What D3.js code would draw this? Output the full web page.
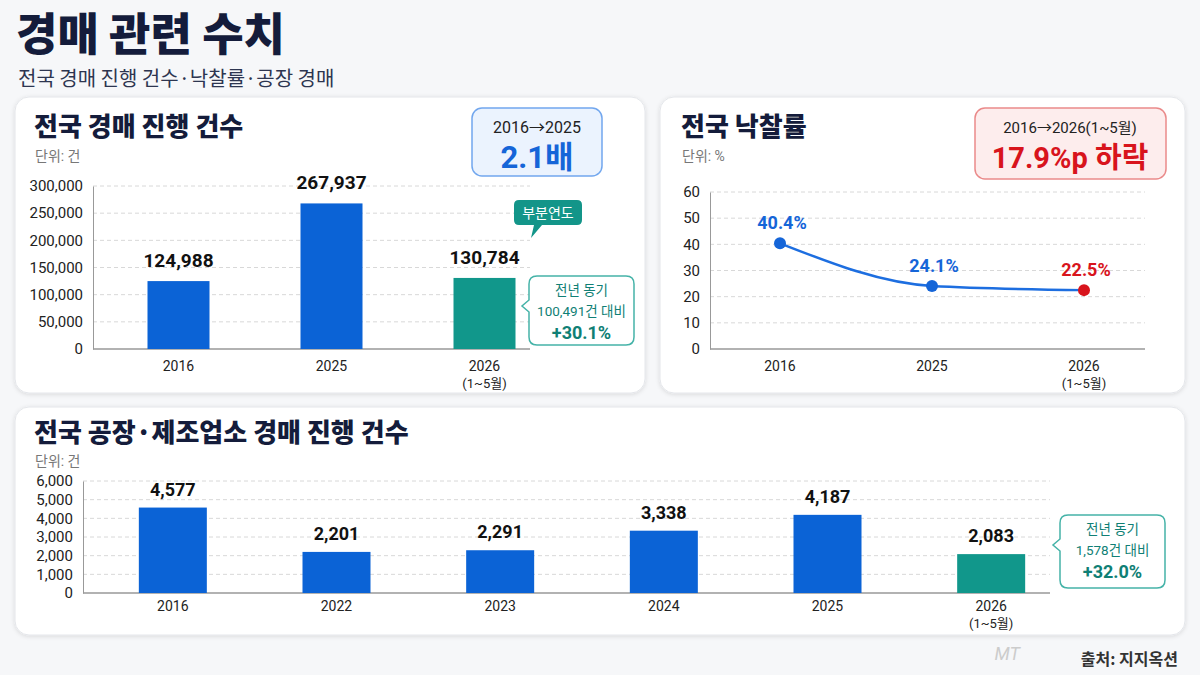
<!DOCTYPE html>
<html>
<head>
<meta charset="utf-8">
<script src="https://cdn.jsdelivr.net/npm/d3@7"></script>
<style>
  body { margin: 0; background: #f6f7f9; }
  svg text { font-family: Roboto, "Noto Sans CJK KR", sans-serif; }
</style>
</head>
<body>
<div id="chart"></div>
<script>
// data
var auctionYears = ["2016", "2025", "2026"];
var auctionCounts = [124988, 267937, 130784];
var auctionTicks = [0, 50000, 100000, 150000, 200000, 250000, 300000];

var rateYears = ["2016", "2025", "2026"];
var rateValues = [40.4, 24.1, 22.5];
var rateTicks = [0, 10, 20, 30, 40, 50, 60];

var factoryYears = ["2016", "2022", "2023", "2024", "2025", "2026"];
var factoryCounts = [4577, 2201, 2291, 3338, 4187, 2083];
var factoryTicks = [0, 1000, 2000, 3000, 4000, 5000, 6000];

var BLUE = "#0b63d6", TEAL = "#11978b", NAVY = "#141c3b", RED = "#d8141c";
var fmt = d3.format(",");

var svg = d3.select("#chart").append("svg")
  .attr("width", 1200)
  .attr("height", 675);

var defs = svg.append("defs");
var shadow = defs.append("filter").attr("id", "shadow").attr("x", "-5%").attr("y", "-5%").attr("width", "110%").attr("height", "115%");
shadow.append("feDropShadow").attr("dx", 0).attr("dy", 1).attr("stdDeviation", 2).attr("flood-color", "#000").attr("flood-opacity", 0.12);

svg.append("rect").attr("width", 1200).attr("height", 675).attr("fill", "#f6f7f9");

// header
svg.append("text").attr("x", 16).attr("y", 51)
  .attr("font-size", 45).attr("font-weight", 900).attr("fill", NAVY)
  .style("font-family", "'Noto Sans CJK KR'")
  .text("경매 관련 수치");
svg.append("text").attr("x", 18).attr("y", 86)
  .attr("font-size", 20).attr("fill", "#2d3550")
  .style("font-family", "'Noto Sans CJK KR'")
  .text("전국 경매 진행 건수·낙찰률·공장 경매");

function panel(x, y, w, h) {
  svg.append("rect").attr("x", x).attr("y", y).attr("width", w).attr("height", h)
    .attr("rx", 14).attr("fill", "#fff").attr("stroke", "#e4e6ea").attr("filter", "url(#shadow)");
}
function panelTitle(x, y, title) {
  svg.append("text").attr("x", x).attr("y", y)
    .attr("font-size", 26).attr("font-weight", 900).attr("fill", NAVY)
    .style("font-family", "'Noto Sans CJK KR'").text(title);
}
function unitLabel(x, y, t) {
  svg.append("text").attr("x", x).attr("y", y)
    .attr("font-size", 14).attr("fill", "#777").text(t);
}
function yGrid(g, y, ticks, x0, x1, f) {
  g.selectAll(".grid").data(ticks.filter(function(d) { return d > 0; })).enter().append("line")
    .attr("x1", x0).attr("x2", x1)
    .attr("y1", function(d) { return y(d); }).attr("y2", function(d) { return y(d); })
    .attr("stroke", "#d8d8d8").attr("stroke-dasharray", "4,3");
  var ax = g.append("g").attr("transform", "translate(" + x0 + ",0)")
    .call(d3.axisLeft(y).tickValues(ticks).tickSize(0).tickPadding(10).tickFormat(f));
  ax.select(".domain").attr("stroke", "#999");
  ax.selectAll("text").attr("font-size", 15).attr("fill", "#222");
  g.append("line").attr("x1", x0).attr("x2", x1).attr("y1", y(0)).attr("y2", y(0))
    .attr("stroke", "#999").attr("stroke-width", 1.5);
}
function xLabels(g, x, years, y0) {
  years.forEach(function(d, i) {
    g.append("text").attr("text-anchor", "middle").attr("font-size", 14).attr("fill", "#222")
      .attr("x", x(d)).attr("y", y0).text(d);
    if (d === "2026") {
      g.append("text").attr("text-anchor", "middle").attr("font-size", 13).attr("fill", "#222")
        .attr("x", x(d)).attr("y", y0 + 17).text("(1~5월)");
    }
  });
}
function callout(x, y, w, h, lines) {
  var g = svg.append("g");
  var p = "M" + (x + 8) + "," + y + " H" + (x + w - 8) + " Q" + (x + w) + "," + y + " " + (x + w) + "," + (y + 8)
    + " V" + (y + h - 8) + " Q" + (x + w) + "," + (y + h) + " " + (x + w - 8) + "," + (y + h)
    + " H" + (x + 8) + " Q" + x + "," + (y + h) + " " + x + "," + (y + h - 8)
    + " V" + (y + 36) + " L" + (x - 7) + "," + (y + 30) + " L" + x + "," + (y + 24)
    + " V" + (y + 8) + " Q" + x + "," + y + " " + (x + 8) + "," + y + " Z";
  g.append("path").attr("d", p).attr("fill", "#fff").attr("stroke", "#45b3a8").attr("stroke-width", 1.5);
  g.append("text").attr("x", x + w / 2).attr("y", y + 19).attr("text-anchor", "middle")
    .attr("font-size", 13.5).attr("fill", "#107f75").text(lines[0]);
  g.append("text").attr("x", x + w / 2).attr("y", y + 40).attr("text-anchor", "middle")
    .attr("font-size", 13.5).attr("fill", "#107f75").text(lines[1]);
  g.append("text").attr("x", x + w / 2).attr("y", y + 63).attr("text-anchor", "middle")
    .attr("font-size", 18).attr("font-weight", 700).attr("fill", "#107f75").text(lines[2]);
}

// panel 1: auction counts
panel(15, 97, 630, 296);
panelTitle(34, 136, "전국 경매 진행 건수");
unitLabel(35, 161, "단위: 건");

var g1 = svg.append("g");
var x1 = d3.scaleBand().domain(auctionYears).range([102, 561]).paddingInner(0.6).paddingOuter(0.3);
var y1 = d3.scaleLinear().domain([0, 300000]).range([349, 186]);
yGrid(g1, y1, auctionTicks, 93, 530, fmt);
g1.selectAll(".bar").data(auctionCounts).enter().append("rect")
  .attr("x", function(d, i) { return x1(auctionYears[i]) + x1.bandwidth() / 2 - 31; })
  .attr("width", 62)
  .attr("y", function(d) { return y1(d); })
  .attr("height", function(d) { return y1(0) - y1(d); })
  .attr("fill", function(d, i) { return auctionYears[i] === "2026" ? TEAL : BLUE; });
g1.selectAll(".val").data(auctionCounts).enter().append("text")
  .attr("x", function(d, i) { return x1(auctionYears[i]) + x1.bandwidth() / 2; })
  .attr("y", function(d) { return y1(d) - 14; })
  .attr("text-anchor", "middle").attr("font-size", 19).attr("font-weight", 700).attr("fill", "#111")
  .text(function(d) { return fmt(d); });
var xc1 = function(d) { return x1(d) + x1.bandwidth() / 2; };
xLabels(g1, xc1, auctionYears, 371);

// badge 1
svg.append("rect").attr("x", 472).attr("y", 108).attr("width", 130).attr("height", 68).attr("rx", 10)
  .attr("fill", "#ebf3fe").attr("stroke", "#72a7ee").attr("stroke-width", 1.5);
svg.append("text").attr("x", 537).attr("y", 133).attr("text-anchor", "middle")
  .attr("font-size", 16).attr("fill", "#222").text("2016→2025");
svg.append("text").attr("x", 537).attr("y", 168).attr("text-anchor", "middle")
  .attr("font-size", 31).attr("font-weight", 700).attr("fill", "#1565d8").text("2.1배");

// 부분연도 tag
svg.append("path")
  .attr("d", "M519,200 H577 Q582,200 582,205 V220 Q582,225 577,225 H542 L531,238 L534,225 H519 Q514,225 514,220 V205 Q514,200 519,200 Z")
  .attr("fill", "#139589");
svg.append("text").attr("x", 548).attr("y", 218).attr("text-anchor", "middle")
  .attr("font-size", 14).attr("fill", "#fff").text("부분연도");

callout(529, 276, 105, 69, ["전년 동기", "100,491건 대비", "+30.1%"]);

// panel 2: winning bid rate
panel(660, 97, 525, 296);
panelTitle(681, 136, "전국 낙찰률");
unitLabel(682, 161, "단위: %");

var g2 = svg.append("g");
var x2 = d3.scalePoint().domain(rateYears).range([780, 1084]);
var y2 = d3.scaleLinear().domain([0, 60]).range([349, 192]);
yGrid(g2, y2, rateTicks, 710, 1145, d3.format("d"));
var line = d3.line()
  .x(function(d, i) { return x2(rateYears[i]); })
  .y(function(d) { return y2(d); })
  .curve(d3.curveMonotoneX);
g2.append("path").datum(rateValues).attr("d", line)
  .attr("fill", "none").attr("stroke", "#1d6ee0").attr("stroke-width", 2.5);
g2.selectAll(".pt").data(rateValues).enter().append("circle")
  .attr("cx", function(d, i) { return x2(rateYears[i]); })
  .attr("cy", function(d) { return y2(d); })
  .attr("r", 6)
  .attr("fill", function(d, i) { return i === 2 ? RED : "#1565d8"; });
g2.selectAll(".lbl").data(rateValues).enter().append("text")
  .attr("x", function(d, i) { return x2(rateYears[i]) + 2; })
  .attr("y", function(d) { return y2(d) - 14; })
  .attr("text-anchor", "middle").attr("font-size", 18).attr("font-weight", 700)
  .attr("fill", function(d, i) { return i === 2 ? RED : "#1565d8"; })
  .text(function(d) { return d.toFixed(1) + "%"; });
xLabels(g2, x2, rateYears, 371);

// badge 2
svg.append("rect").attr("x", 975).attr("y", 108).attr("width", 191).attr("height", 71).attr("rx", 10)
  .attr("fill", "#fdeded").attr("stroke", "#ea8a8a").attr("stroke-width", 1.5);
svg.append("text").attr("x", 1070).attr("y", 133).attr("text-anchor", "middle")
  .attr("font-size", 15).attr("fill", "#222").text("2016→2026(1~5월)");
svg.append("text").attr("x", 1070).attr("y", 168).attr("text-anchor", "middle")
  .attr("font-size", 29).attr("font-weight", 700).attr("fill", RED).text("17.9%p 하락");

// panel 3: factory auctions
panel(15, 407, 1170, 228);
panelTitle(34, 442, "전국 공장·제조업소 경매 진행 건수");
unitLabel(35, 466, "단위: 건");

var g3 = svg.append("g");
var x3 = d3.scaleBand().domain(factoryYears).range([91, 1073]).paddingInner(0.58).paddingOuter(0.29);
var y3 = d3.scaleLinear().domain([0, 6000]).range([593, 481]);
yGrid(g3, y3, factoryTicks, 83, 1050, fmt);
g3.selectAll(".bar").data(factoryCounts).enter().append("rect")
  .attr("x", function(d, i) { return x3(factoryYears[i]) + x3.bandwidth() / 2 - 34; })
  .attr("width", 68)
  .attr("y", function(d) { return y3(d); })
  .attr("height", function(d) { return y3(0) - y3(d); })
  .attr("fill", function(d, i) { return factoryYears[i] === "2026" ? TEAL : BLUE; });
g3.selectAll(".val").data(factoryCounts).enter().append("text")
  .attr("x", function(d, i) { return x3(factoryYears[i]) + x3.bandwidth() / 2; })
  .attr("y", function(d) { return y3(d) - 12; })
  .attr("text-anchor", "middle").attr("font-size", 18).attr("font-weight", 700).attr("fill", "#111")
  .text(function(d) { return fmt(d); });
var xc3 = function(d) { return x3(d) + x3.bandwidth() / 2; };
xLabels(g3, xc3, factoryYears, 611);

callout(1060, 515, 105, 73, ["전년 동기", "1,578건 대비", "+32.0%"]);

// footer
svg.append("text").attr("x", 1020).attr("y", 660).attr("text-anchor", "end")
  .attr("font-size", 18).attr("font-style", "italic").attr("fill", "#ccc").text("MT");
svg.append("text").attr("x", 1178).attr("y", 665).attr("text-anchor", "end")
  .attr("font-size", 16).attr("font-weight", 700).attr("fill", "#333").style("font-family", "'Noto Sans CJK KR'")
  .text("출처: 지지옥션");
</script>
</body>
</html>
